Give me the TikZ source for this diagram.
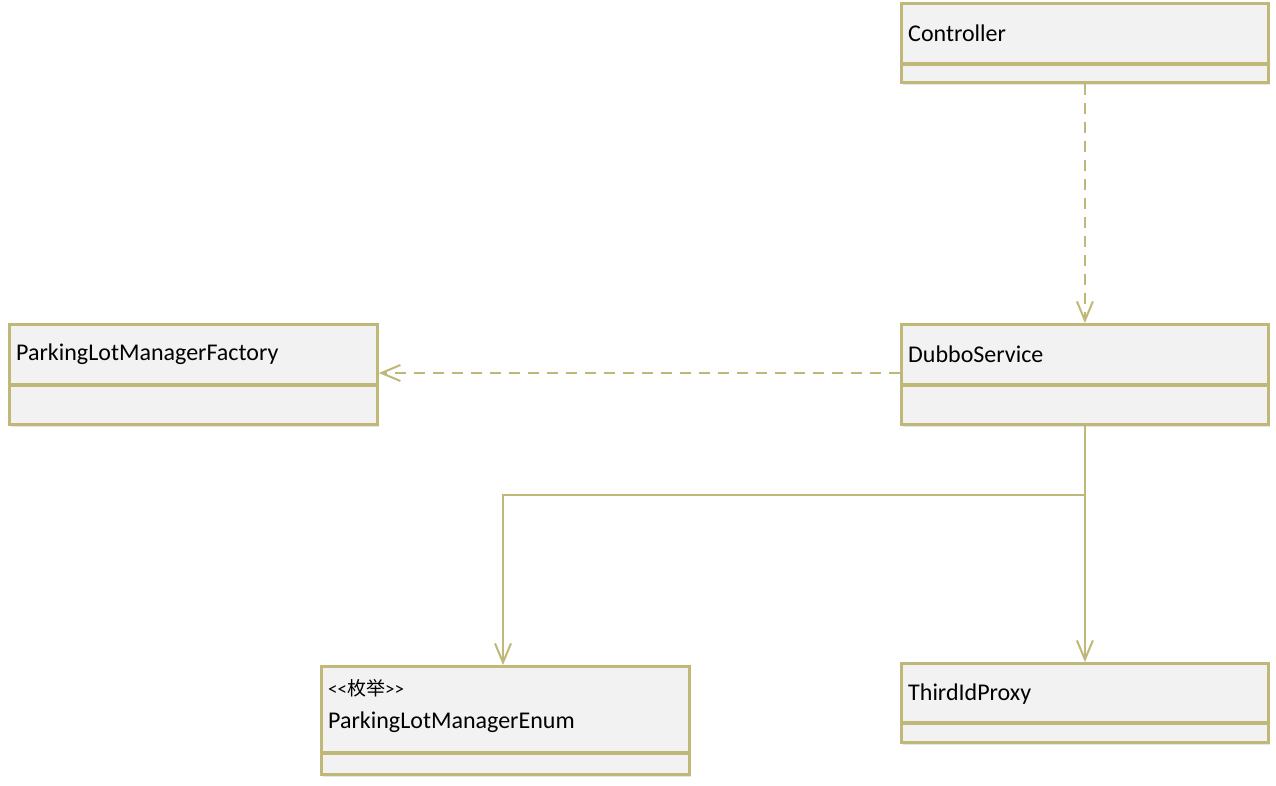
\documentclass[tikz,border=0pt]{standalone}
\usepackage{fontspec}
\setmainfont{Carlito}
\newfontfamily\cjk{Noto Sans CJK SC}
\usetikzlibrary{arrows.meta,shadows}
\definecolor{bord}{HTML}{BFB878}
\definecolor{boxfill}{HTML}{F2F2F2}
\begin{document}
\begin{tikzpicture}[x=1pt,y=-1pt,
  umlbox/.style={draw=bord, fill=boxfill, line width=2.8pt, rectangle, inner sep=0pt, anchor=north west,
    drop shadow={opacity=0.2, shadow xshift=1.5pt, shadow yshift=-3pt}},
  divline/.style={draw=bord, line width=3.3pt},
  lbl/.style={font=\fontsize{24}{28}\selectfont, anchor=west, inner sep=0pt, text=black},
  stereo/.style={font=\fontsize{19}{22}\selectfont, anchor=west, inner sep=0pt, text=black},
  conn/.style={draw=bord, line width=2pt},
  dep/.style={conn, dash pattern=on 11pt off 8pt, -{Straight Barb[length=19pt,width=16pt,line width=2pt]}},
  assoc/.style={conn, -{Straight Barb[length=19pt,width=16pt,line width=2pt]}}
]
\useasboundingbox[fill=white] (0,0) rectangle (1276,785);

% Controller
\node[umlbox, minimum width=367pt, minimum height=79pt] (ctrl) at (900,2) {};
\draw[divline] (900,64) -- (1267,64);
\node[lbl] (ctrlT) at (908,33) {Controller};

% DubboService
\node[umlbox, minimum width=367pt, minimum height=100pt] (dubbo) at (900,323) {};
\draw[divline] (900,385) -- (1267,385);
\node[lbl] (dubboT) at (908,354) {DubboService};

% ParkingLotManagerFactory
\node[umlbox, minimum width=368pt, minimum height=100pt] (fact) at (8,323) {};
\draw[divline] (8,385) -- (376,385);
\node[lbl] (factT) at (16,354) {ParkingLotManagerFactory};

% ParkingLotManagerEnum
\node[umlbox, minimum width=368pt, minimum height=108pt] (enum) at (320,665) {};
\draw[divline] (320,753) -- (688,753);
\node[stereo] (enumS) at (328,688) {<\kern0pt<{\cjk 枚举}>\kern0pt>};
\node[lbl] (enumT) at (328,722) {ParkingLotManagerEnum};

% ThirdIdProxy
\node[umlbox, minimum width=367pt, minimum height=79pt] (proxy) at (900,662) {};
\draw[divline] (900,723) -- (1267,723);
\node[lbl] (proxyT) at (908,694) {ThirdIdProxy};

% connectors
\coordinate (bend) at (dubbo.south |- 0,495);
\coordinate (bendL) at (503,495);
\draw[dep] (ctrl.south) -- (dubbo.north);
\draw[dep] (dubbo.west |- 0,373) -- (fact.east |- 0,373);
\draw[assoc] (dubbo.south) -- (bend) -- (bendL) -- (bendL |- enum.north);
\draw[assoc] (bend) -- (proxy.north);
\end{tikzpicture}
\end{document}
